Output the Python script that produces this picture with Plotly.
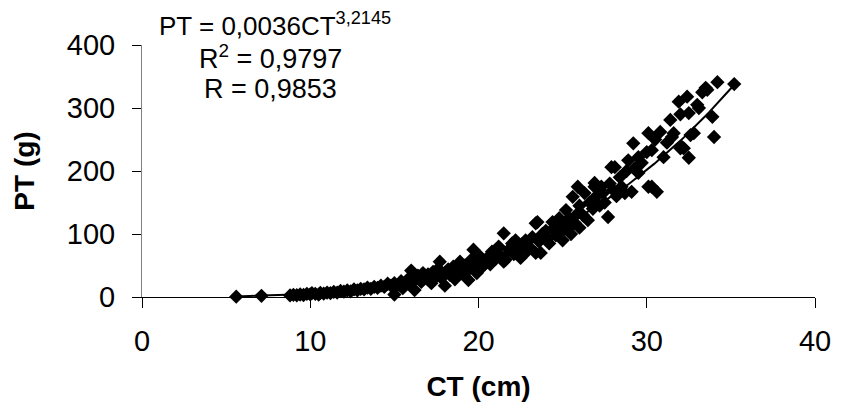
import numpy as np
import plotly.graph_objects as go

ct_cm = [5.6, 7.1, 8.8, 9.0, 9.2, 9.4, 9.6, 9.8, 10.0, 10.1, 10.3, 10.5, 10.6,
         10.8, 11.0, 11.2, 11.4, 11.6, 11.8, 12.0, 12.2, 12.4, 12.6, 12.8, 13.0, 13.2, 13.4, 13.6, 13.8, 14.0,
         14.2, 14.4, 14.6, 14.8, 15.0, 15.0, 15.2, 15.4, 15.5, 15.6, 15.8, 15.9, 16.0, 16.1, 16.2, 16.3, 16.4,
         16.6, 16.7, 16.8, 17.0, 17.0, 17.2, 17.3, 17.5,
         17.6, 17.7, 17.8, 18.0, 18.0, 18.2, 18.3, 18.5, 18.6, 18.8, 18.9, 19.0, 19.2, 19.4, 19.5, 19.6, 19.7,
         19.8, 19.9, 20.0, 20.1, 20.2,
         20.4, 20.6, 20.7, 20.8, 21.0, 21.2, 21.3, 21.5, 21.5, 21.6, 21.8, 22.0, 22.1, 22.2, 22.4, 22.5, 22.6,
         22.8, 22.9, 23.0,
         23.2, 23.4, 23.4, 23.5, 23.6, 23.7, 23.8, 24.0, 24.1, 24.2, 24.4, 24.5, 24.6, 24.8, 24.9, 25.0, 25.0,
         25.2, 25.3, 25.4, 25.5, 25.6, 25.7, 25.8, 25.9, 26.0, 26.0,
         26.2, 26.3, 26.5, 26.6, 26.8, 26.9, 26.9, 27.0, 27.2, 27.3, 27.4, 27.5, 27.7, 27.8, 27.9, 28.0, 28.1,
         28.2, 28.4, 28.5, 28.7, 28.9, 28.8,
         29.1, 29.2, 29.3, 29.5, 29.5, 29.7, 30.0, 30.1, 30.1, 30.3, 30.3, 30.6, 30.8, 30.5, 31.0, 31.2, 31.4,
         31.5, 31.6, 31.9, 32.0, 32.0, 32.1, 32.2, 32.4, 32.5, 32.5, 32.6, 32.8, 33.0, 33.1, 33.3, 33.5, 33.6,
         33.9, 34.0, 34.2, 35.2]
pt_g = [0.5, 1.8, 2.5, 3.5, 2.8, 4.0, 3.2, 5.0, 4.2, 6.0, 5.0, 3.8, 6.5,
        5.5, 7.0, 6.0, 8.0, 7.0, 9.5, 8.5, 10.5, 9.0, 12.0, 10.5, 13.0, 12.0, 15.0, 13.0, 16.0, 14.5,
        18, 16, 21, 18, 22, 4, 19, 25, 14, 22, 28, 20, 42, 25, 11, 30, 34,
        24, 38, 30, 28, 36, 22, 40, 33,
        45, 56, 30, 38, 18, 44, 35, 48, 28, 42, 56, 38, 50, 27, 46, 60, 75,
        42, 38, 55, 64, 47,
        58, 64, 52, 72, 60, 80, 66, 101, 56, 59, 75, 85, 68, 90, 78, 62, 84,
        90, 73, 80,
        95, 70, 117, 119, 88, 70, 100, 105, 92, 85, 119, 110, 98, 125, 102, 90, 115,
        138, 108, 125, 100, 159, 118, 130, 175, 110, 145,
        130, 165, 122, 150, 140, 175, 181, 160, 145, 175, 165, 150, 127, 180, 206, 170, 206,
        160, 190, 175, 165, 217, 200,
        167, 244, 205, 197, 222, 213, 230, 260, 175, 233, 175, 167, 262, 250, 222, 245, 281,
        254, 260, 310, 236, 290, 238, 236, 318, 292, 221, 257, 260, 305, 300, 325, 332, 329,
        286, 254, 341, 338]

# Power trendline coefficients shown on the chart: PT = a * CT^b
coef_a = 0.0036
coef_b = 3.2145

x_ticks = [0, 10, 20, 30, 40]
y_ticks = [0, 100, 200, 300, 400]

FONT = "Liberation Sans, Arial, sans-serif"

trend_x = np.linspace(min(ct_cm), max(ct_cm), 200)
trend_y = coef_a * trend_x ** coef_b

fig = go.Figure()
fig.add_trace(go.Scatter(
    x=ct_cm, y=pt_g, mode="markers",
    marker=dict(symbol="diamond", size=11, color="black", line=dict(width=0)),
    showlegend=False, cliponaxis=False,
))
fig.add_trace(go.Scatter(
    x=trend_x, y=trend_y, mode="lines",
    line=dict(color="black", width=2),
    showlegend=False,
))

fig.update_layout(
    width=835, height=407,
    margin=dict(l=134, r=21, t=37, b=118),
    paper_bgcolor="white", plot_bgcolor="white",
    font=dict(family=FONT, color="black"),
    xaxis=dict(
        range=[0, 40], tickvals=x_ticks, ticktext=[str(v) for v in x_ticks],
        showgrid=False, zeroline=False,
        showline=True, linecolor="black", linewidth=1,
        ticks="outside", ticklen=10, tickcolor="black", tickwidth=1,
        tickfont=dict(size=29, family=FONT),
        ticklabelstandoff=8,
        title=dict(text="<b>CT (cm)</b>", font=dict(size=28, family=FONT), standoff=20),
    ),
    yaxis=dict(
        range=[0, 400], tickvals=y_ticks, ticktext=[str(v) for v in y_ticks],
        showgrid=False, zeroline=False,
        showline=True, linecolor="#808080", linewidth=1,
        ticks="outside", ticklen=9, tickcolor="black", tickwidth=1,
        tickfont=dict(size=29, family=FONT),
        ticklabelstandoff=11,
        title=dict(text="<b>PT (g)</b>", font=dict(size=28, family=FONT), standoff=24),
    ),
)

fig.add_annotation(xref="paper", yref="paper", x=0.198, y=1.083,
                   text="PT = 0,0036CT<sup>3,2145</sup>", showarrow=False,
                   font=dict(size=26, family=FONT), xanchor="center", yanchor="middle")
fig.add_annotation(xref="paper", yref="paper", x=0.191, y=0.952,
                   text="R<sup>2</sup> = 0,9797", showarrow=False,
                   font=dict(size=27, family=FONT), xanchor="center", yanchor="middle")
fig.add_annotation(xref="paper", yref="paper", x=0.191, y=0.825,
                   text="R = 0,9853", showarrow=False,
                   font=dict(size=27, family=FONT), xanchor="center", yanchor="middle")

fig.write_html("out.html")
